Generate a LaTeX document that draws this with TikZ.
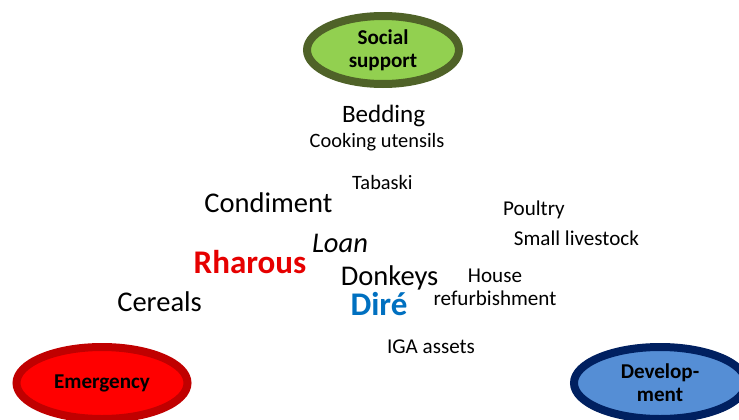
\documentclass[tikz,border=0pt]{standalone}
\usepackage{fontspec}
\setmainfont{Carlito}
\usetikzlibrary{positioning,shapes.geometric}

\definecolor{socialfill}{RGB}{146,208,80}
\definecolor{socialline}{RGB}{79,98,40}
\definecolor{emergfill}{RGB}{255,0,0}
\definecolor{emergline}{RGB}{192,0,0}
\definecolor{devfill}{RGB}{85,142,213}
\definecolor{devline}{RGB}{0,32,96}
\definecolor{rharousred}{RGB}{230,0,0}
\definecolor{direblue}{RGB}{0,112,192}

\begin{document}
\begin{tikzpicture}
  \tikzset{
    pole/.style={
      ellipse,
      draw,
      line width=0.2cm,
      inner sep=0pt,
      minimum width=3.8cm,
      minimum height=1.7cm,
      align=center,
      font=\fontsize{15}{16.5}\selectfont\bfseries
    },
    word/.style={anchor=base, inner sep=0pt, font=\fontsize{15}{18}\selectfont},
    midword/.style={anchor=base, inner sep=0pt, font=\fontsize{20.3}{24}\selectfont},
    place/.style={anchor=base, inner sep=0pt, font=\fontsize{23.5}{28}\selectfont\bfseries}
  }

  \useasboundingbox (0,0) rectangle (18.475,-10.475);

  \node[pole, fill=socialfill, draw=socialline] (social) at (9.575,-1.25) {Social\\support};
  \node[pole, fill=emergfill, draw=emergline, minimum width=4.275cm, minimum height=1.8cm] (emergency) at (2.55,-9.575) {Emergency};
  \node[pole, fill=devfill, draw=devline, minimum width=4.3cm, minimum height=1.8cm] (development) at (16.5,-9.575) {Develop-\\ment};

  \node[word, font=\fontsize{17.8}{20}\selectfont] (bedding) at (9.59,-3.05) {Bedding};
  \node[word, font=\fontsize{14.5}{17}\selectfont] (cooking) at (9.425,-3.675) {Cooking utensils};
  \node[word, font=\fontsize{14.5}{17}\selectfont] (tabaski) at (9.56,-4.725) {Tabaski};
  \node[midword] (condiment) at (6.71,-5.3) {Condiment};
  \node[word] (poultry) at (13.35,-5.375) {Poultry};
  \node[word] (livestock) at (14.41,-6.125) {Small livestock};
  \node[midword, font=\fontsize{20.3}{24}\selectfont\itshape] (loan) at (8.5,-6.3) {Loan};
  \node[place, text=rharousred] (rharous) at (6.25,-6.825) {Rharous};
  \node[midword] (donkeys) at (9.74,-7.125) {Donkeys};
  \node[word] (house) at (12.375,-7.05) {House};
  \node[midword] (cereals) at (3.99,-7.775) {Cereals};
  \node[place, text=direblue] (dire) at (9.475,-7.875) {Diré};
  \node[word] (refurb) at (12.375,-7.625) {refurbishment};
  \node[word] (iga) at (10.775,-8.825) {IGA assets};
\end{tikzpicture}
\end{document}
